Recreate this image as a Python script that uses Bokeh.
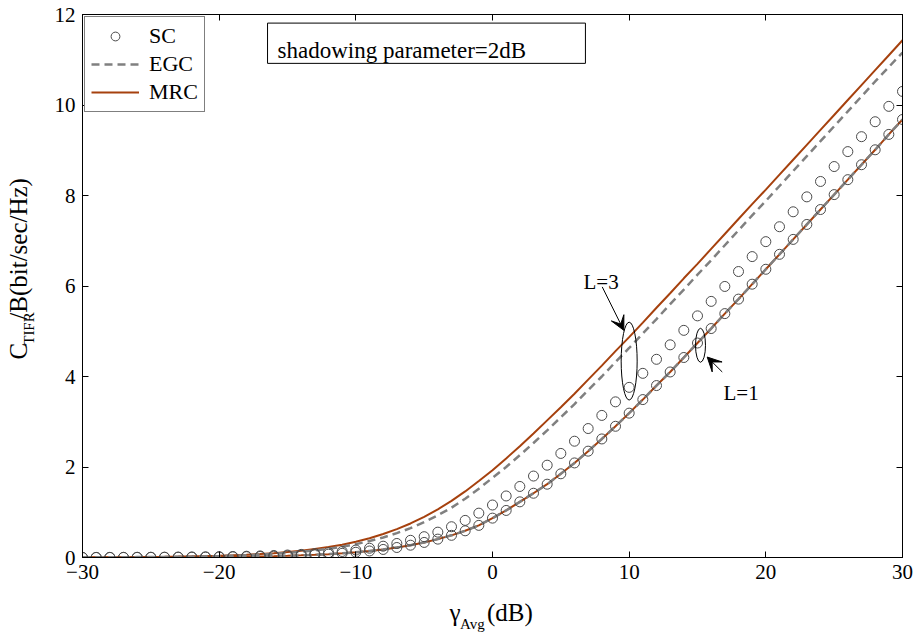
import math
from bokeh.plotting import figure
from bokeh.models import (FixedTicker, LinearAxis, Legend, LegendItem, Label,
                          BoxAnnotation, Arrow, VeeHead, Range1d)
from bokeh.layouts import column, row
from bokeh.embed import file_html
from bokeh.resources import INLINE

# ---------------- data ----------------
snr_db = list(range(-30, 31))

# L = 1 : SC, EGC and MRC coincide
cap_l1 = [0.0012, 0.0015, 0.0019, 0.0024, 0.0030, 0.0038, 0.0048, 0.0061, 0.0076, 0.0096,
          0.0121, 0.0152, 0.0191, 0.0239, 0.0301, 0.0377, 0.0473, 0.0593, 0.0741, 0.0926,
          0.116, 0.144, 0.178, 0.221, 0.272, 0.333, 0.406, 0.49, 0.59, 0.71,
          0.87, 1.04, 1.23, 1.42, 1.62, 1.85, 2.09, 2.35, 2.62, 2.90,
          3.19, 3.49, 3.80, 4.10, 4.42, 4.74, 5.06, 5.39, 5.71, 6.04,
          6.37, 6.70, 7.03, 7.36, 7.69, 8.02, 8.35, 8.68, 9.01, 9.35, 9.68]

# L = 3
sc_l3 = [0.0017, 0.0022, 0.0028, 0.0035, 0.0044, 0.0055, 0.0070, 0.0088, 0.011, 0.014,
         0.0175, 0.022, 0.028, 0.035, 0.044, 0.055, 0.069, 0.086, 0.107, 0.133,
         0.165, 0.205, 0.25, 0.31, 0.38, 0.46, 0.56, 0.68, 0.82, 0.98,
         1.16, 1.36, 1.57, 1.80, 2.04, 2.30, 2.57, 2.85, 3.14, 3.44,
         3.76, 4.07, 4.38, 4.70, 5.02, 5.34, 5.66, 5.99, 6.32, 6.65,
         6.98, 7.31, 7.64, 7.97, 8.31, 8.64, 8.97, 9.30, 9.63, 9.97, 10.30]

egc_l3 = [0.0034, 0.0042, 0.0053, 0.0066, 0.0084, 0.0105, 0.0133, 0.0166, 0.0209, 0.0263,
          0.0329, 0.0413, 0.0517, 0.0648, 0.081, 0.101, 0.126, 0.156, 0.193, 0.239,
          0.296, 0.363, 0.443, 0.538, 0.649, 0.783, 0.934, 1.10, 1.30, 1.52,
          1.76, 2.00, 2.26, 2.53, 2.81, 3.10, 3.39, 3.70, 4.00, 4.32,
          4.63, 4.95, 5.27, 5.60, 5.92, 6.25, 6.57, 6.90, 7.23, 7.56,
          7.88, 8.21, 8.54, 8.87, 9.20, 9.53, 9.86, 10.19, 10.52, 10.84, 11.16]

mrc_l3 = [0.0040, 0.0050, 0.0063, 0.0079, 0.0100, 0.0125, 0.0158, 0.0198, 0.0249, 0.0313,
          0.0392, 0.0492, 0.0616, 0.0772, 0.0965, 0.120, 0.150, 0.186, 0.230, 0.284,
          0.349, 0.426, 0.518, 0.626, 0.752, 0.90, 1.065, 1.25, 1.46, 1.69,
          1.93, 2.19, 2.46, 2.74, 3.03, 3.32, 3.62, 3.93, 4.24, 4.56,
          4.87, 5.19, 5.52, 5.84, 6.17, 6.49, 6.82, 7.15, 7.48, 7.81,
          8.13, 8.46, 8.79, 9.12, 9.45, 9.78, 10.11, 10.44, 10.77, 11.10, 11.43]

x_ticks = [-30, -20, -10, 0, 10, 20, 30]
x_tick_labels = ["\u221230", "\u221220", "\u221210", "0", "10", "20", "30"]
y_ticks = [0, 2, 4, 6, 8, 10, 12]
y_tick_labels = ["0", "2", "4", "6", "8", "10", "12"]

legend_labels = ["SC", "EGC", "MRC"]

# ---------------- styling ----------------
FONT = "Liberation Serif"
ORANGE = "#A6410E"
GRAY = "#808080"
MARK = "#4a4a4a"

YLAB_W = 46      # strip holding the y-axis title
MAIN_H = 600     # height of main figure
XLAB_H = 35      # strip holding the x-axis title
TOTAL_W = 916

p = figure(width=TOTAL_W - YLAB_W, height=MAIN_H,
           x_range=Range1d(-30, 30), y_range=Range1d(0, 12),
           output_backend="svg", toolbar_location=None,
           min_border_left=82 - YLAB_W, min_border_right=14,
           min_border_top=14, min_border_bottom=MAIN_H - 14 - 543)
p.xgrid.visible = False
p.ygrid.visible = False
p.outline_line_color = "black"
p.outline_line_alpha = 1
p.background_fill_color = "white"
p.border_fill_color = "white"


def style_axis(ax, ticks, labels, show):
    ax.ticker = FixedTicker(ticks=ticks)
    ax.major_label_overrides = {t: (l if show else "") for t, l in zip(ticks, labels)}
    ax.axis_line_color = "black"
    ax.major_tick_line_color = "black"
    ax.major_tick_in = 6
    ax.major_tick_out = 0
    ax.minor_tick_in = 0
    ax.minor_tick_out = 0
    ax.major_label_text_font = FONT
    ax.major_label_text_color = "black"
    if show:
        ax.major_label_text_font_size = "21px"
        ax.major_label_standoff = 7
    else:
        ax.major_label_text_font_size = "0px"
        ax.major_label_standoff = 0


style_axis(p.xaxis[0], x_ticks, x_tick_labels, True)
style_axis(p.yaxis[0], y_ticks, y_tick_labels, True)
top_ax = LinearAxis()
right_ax = LinearAxis()
style_axis(top_ax, x_ticks, x_tick_labels, False)
style_axis(right_ax, y_ticks, y_tick_labels, False)
p.add_layout(top_ax, "above")
p.add_layout(right_ax, "right")

# ---------------- curves ----------------
p.line(snr_db, cap_l1, line_color=ORANGE, line_width=2)
r_mrc = p.line(snr_db, mrc_l3, line_color=ORANGE, line_width=2)
p.line(snr_db, cap_l1, line_color=GRAY, line_width=2.5, line_dash="8 5")
r_egc = p.line(snr_db, egc_l3, line_color=GRAY, line_width=2.5, line_dash="8 5")
p.scatter(snr_db, cap_l1, marker="circle", size=10, fill_color=None,
          line_color=MARK, line_width=1)
r_sc = p.scatter(snr_db, sc_l3, marker="circle", size=10, fill_color=None,
                 line_color=MARK, line_width=1)

# ---------------- legend ----------------
legend = Legend(items=[LegendItem(label=legend_labels[0], renderers=[r_sc]),
                       LegendItem(label=legend_labels[1], renderers=[r_egc]),
                       LegendItem(label=legend_labels[2], renderers=[r_mrc])],
                location="top_left", margin=2, padding=6, spacing=2,
                glyph_width=48, glyph_height=22, label_height=22, label_standoff=10,
                label_text_font=FONT, label_text_font_size="22px",
                label_text_color="black",
                border_line_color="black", border_line_width=1,
                background_fill_color="white", background_fill_alpha=1)
p.add_layout(legend)

# ---------------- annotation box ----------------
p.add_layout(BoxAnnotation(left=-16.46, right=6.80, bottom=10.92, top=11.81,
                           fill_color="white", fill_alpha=1,
                           line_color="black", line_width=1, line_alpha=1))
p.add_layout(Label(x=-15.73, y=11.21, text="shadowing parameter=2dB",
                   text_font=FONT, text_font_size="23px", text_color="black",
                   text_align="left", text_baseline="alphabetic"))

# ---------------- L=3 / L=1 marks ----------------
p.ellipse(x=[10.0], y=[4.34], width=[1.17], height=[1.72],
          fill_color=None, line_color="black", line_width=1)
p.ellipse(x=[15.22], y=[4.69], width=[0.73], height=[0.75],
          fill_color=None, line_color="black", line_width=1)
p.add_layout(Arrow(end=VeeHead(size=14, fill_color="black", line_color="black"),
                   x_start=8.03, y_start=5.98, x_end=9.61, y_end=5.02,
                   line_color="black", line_width=1))
p.add_layout(Arrow(end=VeeHead(size=14, fill_color="black", line_color="black"),
                   x_start=16.81, y_start=4.10, x_end=15.71, y_end=4.43,
                   line_color="black", line_width=1))
p.add_layout(Label(x=6.66, y=6.08, text="L=3", text_font=FONT, text_font_size="21px",
                   text_color="black", text_align="left", text_baseline="alphabetic"))
p.add_layout(Label(x=16.9, y=3.63, text="L=1", text_font=FONT, text_font_size="21px",
                   text_color="black", text_align="left", text_baseline="alphabetic"))


# ---------------- axis titles (own strips, pixel ranges) ----------------
def strip(w, h):
    f = figure(width=w, height=h, x_range=Range1d(0, w), y_range=Range1d(0, h),
               output_backend="svg", toolbar_location=None,
               x_axis_location=None, y_axis_location=None, min_border=0)
    f.xgrid.visible = False
    f.ygrid.visible = False
    f.outline_line_color = None
    f.background_fill_color = "white"
    f.border_fill_color = "white"
    return f


def add_text(f, x, y, text, size, angle=0.0, align="left", baseline="alphabetic"):
    f.add_layout(Label(x=x, y=y, text=text, text_font=FONT, text_font_size=size,
                       text_color="black", text_align=align,
                       text_baseline=baseline, angle=angle))


ylab = strip(YLAB_W, MAIN_H)
# C_TIFR/B(bit/sec/Hz), reading bottom-to-top, each piece anchored at its centre
add_text(ylab, 17.6, MAIN_H - 372, "C", "25px", math.pi / 2, "center", "middle")
add_text(ylab, 28.0, MAIN_H - 347, "TIFR", "15px", math.pi / 2, "center", "middle")
add_text(ylab, 17.6, MAIN_H - 259, "/B(bit/sec/Hz)", "25px", math.pi / 2, "center", "middle")

xlab = strip(TOTAL_W, XLAB_H)
# gamma_Avg(dB); data y = (MAIN_H + XLAB_H) - page y
add_text(xlab, 449, MAIN_H + XLAB_H - 612, "\u03b3", "25px")
add_text(xlab, 459.5, MAIN_H + XLAB_H - 623, "Avg", "15px")
add_text(xlab, 486.5, MAIN_H + XLAB_H - 612, "(dB)", "25px")

layout = column(row(ylab, p), xlab)
open("out.html", "w").write(file_html(layout, INLINE))
